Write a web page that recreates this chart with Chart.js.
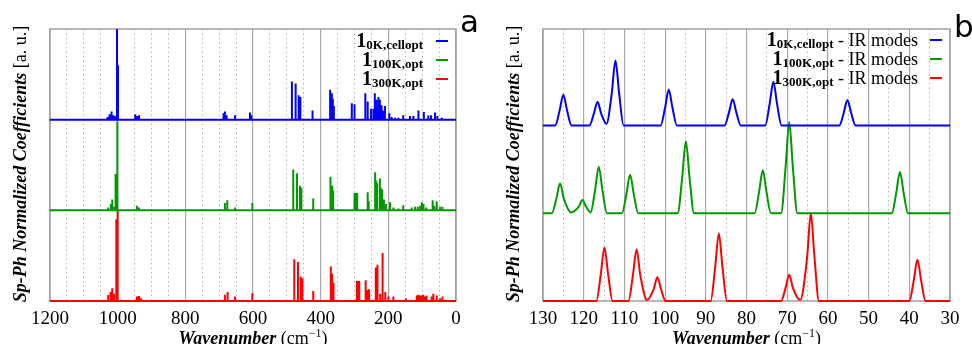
<!DOCTYPE html>
<html>
<head>
<meta charset="utf-8">
<script src="https://cdn.jsdelivr.net/npm/chart.js@4.4.1/dist/chart.umd.min.js"></script>
<style>
  html, body { margin: 0; padding: 0; background: #fff; }
  #wrap { position: relative; width: 972px; height: 344px; overflow: hidden; }
  canvas { position: absolute; top: 0; }
  #left { left: 0; }
  #right { left: 486px; }
</style>
</head>
<body>
<div id="wrap">
  <canvas id="left" width="486" height="344"></canvas>
  <canvas id="right" width="486" height="344"></canvas>
</div>
<script>
// panel a: stick spectra, [wavenumber, normalized coefficient]
const sticks0K = [
  [1030, 0.03], [1024, 0.06], [1018, 0.09], [1013, 0.05], [1008, 0.04], [1002, 1.08], [999, 0.6],
  [948, 0.06], [943, 0.04], [937, 0.05], [828, 0.01], [812, 0.01],
  [687, 0.07], [683, 0.09], [678, 0.05], [653, 0.05], [609, 0.08], [605, 0.05], [552, 0.01], [540, 0.01],
  [485, 0.42], [474, 0.40], [465, 0.27], [460, 0.25], [424, 0.10], [402, 0.01],
  [372, 0.33], [367, 0.29], [364, 0.23], [361, 0.15], [308, 0.18], [300, 0.17],
  [268, 0.29], [261, 0.20], [251, 0.12], [244, 0.12], [240, 0.29], [235, 0.22], [232, 0.14],
  [229, 0.25], [225, 0.22], [220, 0.16], [216, 0.10], [210, 0.15], [197, 0.07], [190, 0.03],
  [180, 0.02], [170, 0.02], [156, 0.05], [136, 0.04], [126, 0.04], [111, 0.10], [95, 0.085],
  [82, 0.045], [74, 0.05], [62, 0.08], [55, 0.04], [42, 0.02]
];
const sticks100K = [
  [1190, 0.01], [1028, 0.03], [1020, 0.07], [1016, 0.12], [1011, 0.04], [1006, 0.4], [1001, 0.98],
  [943, 0.05], [937, 0.03], [683, 0.08], [676, 0.11], [653, 0.03], [602, 0.08], [545, 0.01],
  [481, 0.45], [470, 0.41], [461, 0.27], [457, 0.25], [422, 0.13],
  [371, 0.37], [366, 0.27], [363, 0.22], [300, 0.19], [296, 0.19], [292, 0.19],
  [261, 0.20], [258, 0.10], [239, 0.42], [236, 0.33], [233, 0.30], [225, 0.35], [222, 0.25],
  [218, 0.23], [213, 0.12], [207, 0.07], [195, 0.09], [185, 0.03], [170, 0.02], [156, 0.055],
  [131, 0.03], [121, 0.04], [113, 0.04], [106, 0.05], [101, 0.09], [96, 0.07], [88, 0.03],
  [69, 0.11], [64, 0.05], [57, 0.10], [47, 0.04], [40, 0.04]
];
const sticks300K = [
  [1190, 0.01], [1028, 0.066], [1021, 0.10], [1016, 0.14], [1011, 0.08], [1004, 0.9], [1000, 1.0],
  [943, 0.05], [937, 0.055], [931, 0.03], [683, 0.07], [675, 0.10], [653, 0.05], [602, 0.085], [545, 0.01],
  [478, 0.46], [467, 0.43], [459, 0.27], [454, 0.25], [422, 0.11],
  [370, 0.38], [366, 0.30], [362, 0.20], [293, 0.22], [289, 0.22], [286, 0.22],
  [267, 0.23], [262, 0.12], [257, 0.13], [237, 0.37], [232, 0.40], [224, 0.08], [217, 0.53],
  [209, 0.10], [200, 0.05], [185, 0.05], [148, 0.03], [116, 0.06], [111, 0.07], [106, 0.06],
  [101, 0.06], [97, 0.07], [92, 0.05], [87, 0.06], [72, 0.05], [67, 0.08], [57, 0.06], [47, 0.03], [40, 0.05]
];

// panel b: IR mode profiles, [wavenumber, normalized coefficient]
const ir0K = [
  [130, 0], [127, 0], [125.9, 0.175], [125, 0.35], [124.1, 0.175], [123, 0],
  [118.6, 0], [117.5, 0.135], [116.6, 0.27], [115.7, 0.135], [114.4, 0.02],
  [113.1, 0.37], [112.2, 0.74], [111.3, 0.37], [110.2, 0],
  [101.1, 0], [100, 0.205], [99.1, 0.41], [98.2, 0.205], [97.1, 0],
  [85.4, 0], [84.3, 0.15], [83.4, 0.30], [82.5, 0.15], [81.4, 0],
  [75.4, 0], [74.3, 0.25], [73.4, 0.50], [72.5, 0.25], [71.4, 0],
  [57.2, 0], [56.1, 0.145], [55.2, 0.29], [54.3, 0.145], [53.2, 0], [30, 0]
];
const ir100K = [
  [130, 0], [127.8, 0], [126.7, 0.17], [125.8, 0.34], [124.9, 0.17], [123.1, 0.01],
  [121.2, 0.075], [120.3, 0.15], [119.4, 0.075], [118.3, 0.01],
  [117.2, 0.265], [116.3, 0.53], [115.4, 0.265], [114.3, 0],
  [110.6, 0], [109.5, 0.22], [108.6, 0.44], [107.7, 0.22], [106.6, 0],
  [96.9, 0], [95.8, 0.41], [94.9, 0.82], [94.0, 0.41], [92.9, 0],
  [78, 0], [76.9, 0.245], [76, 0.49], [75.1, 0.245], [74, 0],
  [71.5, 0], [70.4, 0.52], [69.5, 1.04], [68.6, 0.52], [67.5, 0],
  [44.3, 0], [43.2, 0.235], [42.3, 0.47], [41.4, 0.235], [40.3, 0], [30, 0]
];
const ir300K = [
  [130, 0], [116.9, 0], [115.8, 0.305], [114.9, 0.61], [114.0, 0.305], [112.9, 0],
  [109, 0], [107.9, 0.295], [107, 0.59], [106.1, 0.295], [104.4, 0.01],
  [102.8, 0.135], [101.9, 0.27], [101, 0.135], [99.9, 0],
  [88.8, 0], [87.7, 0.385], [86.8, 0.77], [85.9, 0.385], [84.8, 0],
  [71.5, 0], [70.4, 0.15], [69.5, 0.30], [68.6, 0.15], [66.8, 0.01],
  [65.1, 0.5], [64.2, 1.0], [63.3, 0.5], [62.2, 0],
  [40, 0], [38.9, 0.235], [38, 0.47], [37.1, 0.235], [36, 0], [30, 0]
];

const offsets = [2, 1, 0];
const seriesNames = ['0K,cellopt', '100K,opt', '300K,opt'];
const colors = ['#0000ff', '#009900', '#ff0000'];
const ticksA = [1200, 1000, 800, 600, 400, 200, 0];
const ticksB = [130, 120, 110, 100, 90, 80, 70, 60, 50, 40, 30];

const SERIF = '"Liberation Serif", "DejaVu Serif", serif';

function stickLine(sticks, off) {
  const pts = [{x: 1200, y: off}];
  sticks.slice().sort((a, b) => b[0] - a[0]).forEach(([p, h]) => {
    pts.push({x: p, y: off}, {x: p, y: off + h}, {x: p, y: off});
  });
  pts.push({x: 0, y: off});
  return pts;
}
const profileLine = (pts, off) => pts.map(([x, y]) => ({x: x, y: y + off}));

// draw a run of differently styled text pieces
function drawRuns(ctx, runs, x, y, align) {
  let w = 0;
  runs.forEach(r => { ctx.font = r.f; w += ctx.measureText(r.t).width; });
  let cx = align === 'right' ? x - w : align === 'center' ? x - w / 2 : x;
  runs.forEach(r => {
    ctx.font = r.f;
    ctx.fillText(r.t, cx, y + (r.dy || 0));
    cx += ctx.measureText(r.t).width;
  });
}

function decorations(opts) {
  return {
    id: 'decor',
    beforeDatasetsDraw(chart) {
      const ctx = chart.ctx;
      const a = chart.chartArea;
      ctx.save();
      ctx.strokeStyle = '#a0a0a0';
      ctx.lineWidth = 1.5;
      ctx.strokeRect(a.left, a.top, a.right - a.left, a.bottom - a.top);
      ctx.restore();
    },
    afterDraw(chart) {
      const ctx = chart.ctx;
      const a = chart.chartArea;
      ctx.save();
      ctx.fillStyle = '#000';
      ctx.textBaseline = 'alphabetic';
      // x title
      drawRuns(ctx, [
        {t: 'Wavenumber', f: 'italic bold 18px ' + SERIF},
        {t: ' (cm', f: '18px ' + SERIF},
        {t: '\u22121', f: '12px ' + SERIF, dy: -7},
        {t: ')', f: '18px ' + SERIF}
      ], (a.left + a.right) / 2, 344, 'center');
      // y title
      ctx.save();
      ctx.translate(opts.yTitleX, (a.top + a.bottom) / 2 - 1);
      ctx.rotate(-Math.PI / 2);
      ctx.textBaseline = 'middle';
      drawRuns(ctx, [
        {t: 'Sp-Ph Normalized Coefficients', f: 'italic bold 18px ' + SERIF},
        {t: ' [a. u.]', f: '18px ' + SERIF}
      ], 0, 0, 'center');
      ctx.restore();
      // legend
      seriesNames.forEach((name, i) => {
        const runs = [
          {t: '1', f: 'bold 20px ' + SERIF},
          {t: name, f: 'bold 13px ' + SERIF, dy: 2}
        ];
        if (opts.suffix) runs.push({t: opts.suffix, f: '18px ' + SERIF});
        drawRuns(ctx, runs, opts.legendX, opts.legendY[i], 'right');
        ctx.strokeStyle = colors[i];
        ctx.lineWidth = 2;
        ctx.beginPath();
        ctx.moveTo(opts.lineX[0], opts.legendY[i] - 6);
        ctx.lineTo(opts.lineX[1], opts.legendY[i] - 6);
        ctx.stroke();
      });
      // panel letter
      ctx.font = '31px "DejaVu Sans", sans-serif';
      ctx.fillText(opts.letter, opts.letterPos[0], opts.letterPos[1]);
      ctx.restore();
    }
  };
}

function makeChart(id, cfg) {
  const datasets = cfg.series.map((pts, i) => ({
    data: pts,
    borderColor: colors[i],
    borderWidth: cfg.lineWidth,
    pointRadius: 0,
    fill: false,
    clip: {left: 0, right: 0, top: 0, bottom: 3},
    tension: cfg.smooth ? 0.4 : 0,
    cubicInterpolationMode: cfg.smooth ? 'monotone' : 'default'
  }));
  return new Chart(document.getElementById(id), {
    type: 'line',
    data: {datasets: datasets},
    options: {
      responsive: false,
      animation: false,
      events: [],
      layout: {padding: cfg.padding},
      plugins: {legend: {display: false}, tooltip: {enabled: false}},
      scales: {
        x: {
          type: 'linear',
          reverse: true,
          min: cfg.xmin, max: cfg.xmax,
          afterBuildTicks: s => { s.ticks = cfg.ticks.map(v => ({value: v})); },
          afterFit: s => { s.height = 43; },
          grid: {color: '#a8a8a8', lineWidth: 1.2, drawTicks: false},
          border: {display: false},
          ticks: {color: '#000', padding: 7, maxRotation: 0, autoSkip: false,
                  font: {family: SERIF, size: 19},
                  callback: v => String(v)}
        },
        x2: {
          type: 'linear',
          position: 'top',
          reverse: true,
          min: cfg.xmin, max: cfg.xmax,
          ticks: {display: false, stepSize: cfg.minor},
          afterFit: s => { s.height = 0; },
          grid: {
            drawTicks: false,
            lineWidth: 1,
            color: c => (Math.abs(c.tick.value % cfg.major) < 1e-6 ? 'rgba(0,0,0,0)' : '#b4b4b4')
          },
          border: {display: false, dash: [1.5, 3]}
        },
        y: {display: false, min: 0, max: cfg.ymax}
      }
    },
    plugins: [decorations(cfg.decor)]
  });
}

makeChart('left', {
  series: [stickLine(sticks0K, offsets[0]), stickLine(sticks100K, offsets[1]), stickLine(sticks300K, offsets[2])],
  lineWidth: 2, smooth: false,
  xmin: 0, xmax: 1200, ticks: ticksA, minor: 50, major: 200, ymax: 3,
  padding: {left: 50, right: 30, top: 29, bottom: 0},
  decor: {yTitleX: 21, legendX: 423, legendY: [47, 66, 85], lineX: [436, 448],
          letter: 'a', letterPos: [460, 32]}
});

makeChart('right', {
  series: [profileLine(ir0K, offsets[0]), profileLine(ir100K, offsets[1]), profileLine(ir300K, offsets[2])],
  lineWidth: 2, smooth: true,
  xmin: 30, xmax: 130, ticks: ticksB, minor: 5, major: 10, ymax: 3.1,
  padding: {left: 57, right: 22, top: 29, bottom: 0},
  decor: {yTitleX: 28, legendX: 432, legendY: [46, 65, 84], lineX: [444, 456],
          letter: 'b', letterPos: [468, 37], suffix: ' - IR modes'}
});
</script>
</body>
</html>
